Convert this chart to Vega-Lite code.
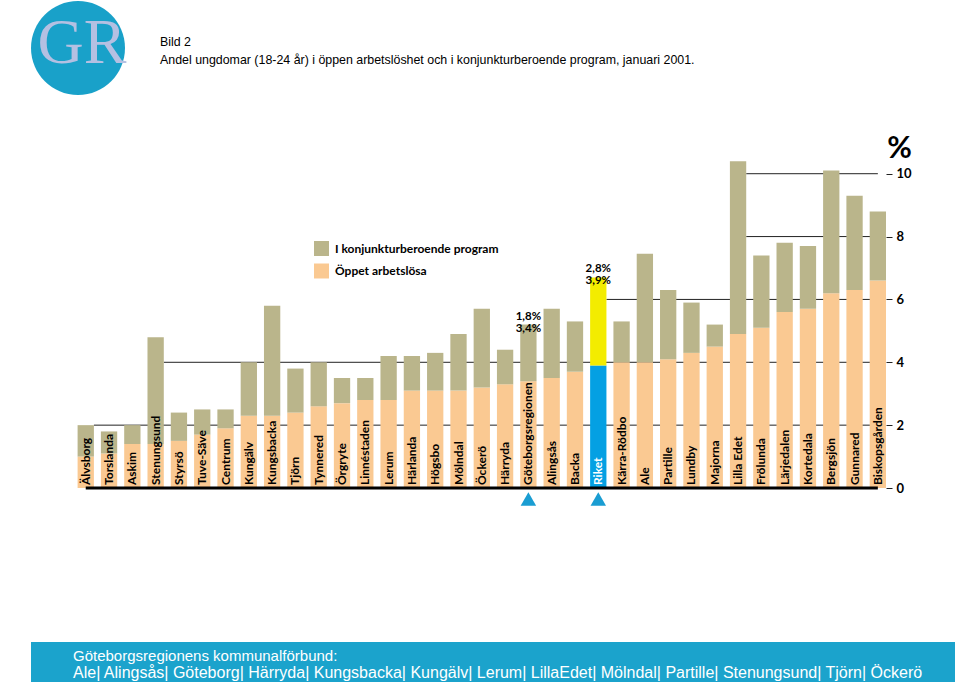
{
 "$schema": "https://vega.github.io/schema/vega-lite/v6.json",
 "padding": {"left": 31, "top": 1, "right": 0, "bottom": 0},
 "background": "white",
 "config": {"view": {"stroke": null}, "font": "Lato"},
 "datasets": {
  "youth": [
   {"a":"Älvsborg","s":"Öppet arbetslösa","v":1.0},{"a":"Älvsborg","s":"I konjunkturberoende program","v":1.0},
   {"a":"Torslanda","s":"Öppet arbetslösa","v":1.1},{"a":"Torslanda","s":"I konjunkturberoende program","v":0.7},
   {"a":"Askim","s":"Öppet arbetslösa","v":1.4},{"a":"Askim","s":"I konjunkturberoende program","v":0.6},
   {"a":"Stenungsund","s":"Öppet arbetslösa","v":1.4},{"a":"Stenungsund","s":"I konjunkturberoende program","v":3.4},
   {"a":"Styrsö","s":"Öppet arbetslösa","v":1.5},{"a":"Styrsö","s":"I konjunkturberoende program","v":0.9},
   {"a":"Tuve-Säve","s":"Öppet arbetslösa","v":1.7},{"a":"Tuve-Säve","s":"I konjunkturberoende program","v":0.8},
   {"a":"Centrum","s":"Öppet arbetslösa","v":1.9},{"a":"Centrum","s":"I konjunkturberoende program","v":0.6},
   {"a":"Kungälv","s":"Öppet arbetslösa","v":2.3},{"a":"Kungälv","s":"I konjunkturberoende program","v":1.7},
   {"a":"Kungsbacka","s":"Öppet arbetslösa","v":2.3},{"a":"Kungsbacka","s":"I konjunkturberoende program","v":3.5},
   {"a":"Tjörn","s":"Öppet arbetslösa","v":2.4},{"a":"Tjörn","s":"I konjunkturberoende program","v":1.4},
   {"a":"Tynnered","s":"Öppet arbetslösa","v":2.6},{"a":"Tynnered","s":"I konjunkturberoende program","v":1.4},
   {"a":"Örgryte","s":"Öppet arbetslösa","v":2.7},{"a":"Örgryte","s":"I konjunkturberoende program","v":0.8},
   {"a":"Linnéstaden","s":"Öppet arbetslösa","v":2.8},{"a":"Linnéstaden","s":"I konjunkturberoende program","v":0.7},
   {"a":"Lerum","s":"Öppet arbetslösa","v":2.8},{"a":"Lerum","s":"I konjunkturberoende program","v":1.4},
   {"a":"Härlanda","s":"Öppet arbetslösa","v":3.1},{"a":"Härlanda","s":"I konjunkturberoende program","v":1.1},
   {"a":"Högsbo","s":"Öppet arbetslösa","v":3.1},{"a":"Högsbo","s":"I konjunkturberoende program","v":1.2},
   {"a":"Mölndal","s":"Öppet arbetslösa","v":3.1},{"a":"Mölndal","s":"I konjunkturberoende program","v":1.8},
   {"a":"Öckerö","s":"Öppet arbetslösa","v":3.2},{"a":"Öckerö","s":"I konjunkturberoende program","v":2.5},
   {"a":"Härryda","s":"Öppet arbetslösa","v":3.3},{"a":"Härryda","s":"I konjunkturberoende program","v":1.1},
   {"a":"Göteborgsregionen","s":"Öppet arbetslösa","v":3.4},{"a":"Göteborgsregionen","s":"I konjunkturberoende program","v":1.8,"note":"1,8%\n3,4%"},
   {"a":"Alingsås","s":"Öppet arbetslösa","v":3.5},{"a":"Alingsås","s":"I konjunkturberoende program","v":2.2},
   {"a":"Backa","s":"Öppet arbetslösa","v":3.7},{"a":"Backa","s":"I konjunkturberoende program","v":1.6},
   {"a":"Riket","s":"Riket, öppet arbetslösa","v":3.9},{"a":"Riket","s":"Riket, i konjunkturberoende program","v":2.8,"note":"2,8%\n3,9%"},
   {"a":"Kärra-Rödbo","s":"Öppet arbetslösa","v":4.0},{"a":"Kärra-Rödbo","s":"I konjunkturberoende program","v":1.3},
   {"a":"Ale","s":"Öppet arbetslösa","v":4.0},{"a":"Ale","s":"I konjunkturberoende program","v":3.45},
   {"a":"Partille","s":"Öppet arbetslösa","v":4.1},{"a":"Partille","s":"I konjunkturberoende program","v":2.2},
   {"a":"Lundby","s":"Öppet arbetslösa","v":4.3},{"a":"Lundby","s":"I konjunkturberoende program","v":1.6},
   {"a":"Majorna","s":"Öppet arbetslösa","v":4.5},{"a":"Majorna","s":"I konjunkturberoende program","v":0.7},
   {"a":"Lilla Edet","s":"Öppet arbetslösa","v":4.9},{"a":"Lilla Edet","s":"I konjunkturberoende program","v":5.5},
   {"a":"Frölunda","s":"Öppet arbetslösa","v":5.1},{"a":"Frölunda","s":"I konjunkturberoende program","v":2.3},
   {"a":"Lärjedalen","s":"Öppet arbetslösa","v":5.6},{"a":"Lärjedalen","s":"I konjunkturberoende program","v":2.2},
   {"a":"Kortedala","s":"Öppet arbetslösa","v":5.7},{"a":"Kortedala","s":"I konjunkturberoende program","v":2.0},
   {"a":"Bergsjön","s":"Öppet arbetslösa","v":6.2},{"a":"Bergsjön","s":"I konjunkturberoende program","v":3.9},
   {"a":"Gunnared","s":"Öppet arbetslösa","v":6.3},{"a":"Gunnared","s":"I konjunkturberoende program","v":3.0},
   {"a":"Biskopsgården","s":"Öppet arbetslösa","v":6.6},{"a":"Biskopsgården","s":"I konjunkturberoende program","v":2.2}
  ],
  "grid": [
   {"v": 2, "from": "Älvsborg", "to": "Biskopsgården"},
   {"v": 4, "from": "Stenungsund", "to": "Biskopsgården"},
   {"v": 6, "from": "Riket", "to": "Biskopsgården"},
   {"v": 8, "from": "Lilla Edet", "to": "Biskopsgården"},
   {"v": 10, "from": "Lilla Edet", "to": "Biskopsgården"}
  ],
  "base": [{"v": 0, "from": "Älvsborg", "to": "Biskopsgården"}],
  "arrows": [{"a": "Göteborgsregionen"}, {"a": "Riket"}]
 },
 "bounds": "flush",
 "spacing": 63,
 "vconcat": [
  {
   "width": 94, "height": 94,
   "view": {"fill": "#19a1c9", "cornerRadius": 47, "stroke": null},
   "data": {"values": [{"k": "GR"}]},
   "mark": {"type": "text", "font": "Liberation Serif", "fontSize": 64, "color": "#b4c0e2", "align": "center", "baseline": "middle", "dx": 4, "dy": -4},
   "encoding": {"text": {"field": "k", "type": "nominal"}},
   "title": {"text": "Bild 2", "subtitle": "Andel ungdomar (18-24 år) i öppen arbetslöshet och i konjunkturberoende program, januari 2001.",
     "anchor": "start", "orient": "bottom", "offset": -59, "dx": 129,
     "font": "Liberation Sans", "fontSize": 12.4, "fontWeight": "normal", "color": "black",
     "subtitleFont": "Liberation Sans", "subtitleFontSize": 12.4, "subtitleColor": "black", "subtitlePadding": 6}
  },
  {
   "width": 855, "height": 421,
   "data": {"name": "youth"},
   "layer": [
    {
     "data": {"name": "grid"},
     "mark": {"type": "rule", "color": "#222222", "strokeWidth": 1},
     "encoding": {
      "x": {"field": "from", "type": "nominal", "bandPosition": 1},
      "x2": {"field": "to"},
      "y": {"field": "v", "type": "quantitative", "title": "%"}
     }
    },
    {
     "mark": {"type": "bar"},
     "encoding": {
      "x": {"field": "a", "type": "nominal",
        "axis": {"domain": false, "labels": false, "ticks": false, "title": null},
        "scale": {"domain": ["Älvsborg","Torslanda","Askim","Stenungsund","Styrsö","Tuve-Säve","Centrum","Kungälv","Kungsbacka","Tjörn","Tynnered","Örgryte","Linnéstaden","Lerum","Härlanda","Högsbo","Mölndal","Öckerö","Härryda","Göteborgsregionen","Alingsås","Backa","Riket","Kärra-Rödbo","Ale","Partille","Lundby","Majorna","Lilla Edet","Frölunda","Lärjedalen","Kortedala","Bergsjön","Gunnared","Biskopsgården"],
          "paddingInner": 0.3, "paddingOuter": 1.239, "align": 1}},
      "y": {"field": "v", "type": "quantitative", "stack": "zero", "title": "%",
        "scale": {"domain": [-2.895, 10.5], "nice": false, "zero": false},
        "axis": {"orient": "right", "values": [0,2,4,6,8,10], "domain": false, "grid": false,
          "ticks": true, "tickSize": 6, "tickColor": "#222222", "tickWidth": 1,
          "labelFont": "Lato", "labelFontWeight": "bold", "labelFontSize": 13, "labelColor": "black", "labelPadding": 4,
          "title": "%", "titleAngle": 0, "titleX": 13, "titleY": -1, "titleAlign": "center", "titleBaseline": "alphabetic",
          "titleFont": "Lato", "titleFontWeight": "bold", "titleFontSize": 30, "titleColor": "black"}},
      "color": {"field": "s", "type": "nominal",
        "scale": {"domain": ["I konjunkturberoende program", "Öppet arbetslösa", "Riket, i konjunkturberoende program", "Riket, öppet arbetslösa"],
          "range": ["#bab58b", "#fac992", "#f3ec00", "#04a0e3"]},
        "legend": {"values": ["I konjunkturberoende program", "Öppet arbetslösa"], "orient": "none", "legendX": 283, "legendY": 240,
          "title": null, "symbolType": "square", "symbolSize": 225, "symbolStrokeWidth": 0, "symbolOpacity": 1,
          "labelFont": "Lato", "labelFontWeight": "bold", "labelFontSize": 12, "labelColor": "black", "labelOffset": 6, "labelLimit": 400, "rowPadding": 7.5}},
      "order": {"field": "s", "sort": "descending"}
     }
    },
    {
     "data": {"name": "base"},
     "mark": {"type": "rule", "color": "black", "strokeWidth": 3},
     "encoding": {
      "x": {"field": "from", "type": "nominal"},
      "x2": {"field": "to"},
      "y": {"field": "v", "type": "quantitative", "title": "%"}
     }
    },
    {
     "transform": [{"filter": "datum.s == 'Öppet arbetslösa' || datum.s == 'Riket, öppet arbetslösa'"}],
     "mark": {"type": "text", "angle": 270, "align": "left", "baseline": "middle", "dx": 3, "font": "Lato", "fontWeight": "bold", "fontSize": 12},
     "encoding": {
      "x": {"field": "a", "type": "nominal"},
      "y": {"datum": 0, "title": "%"},
      "text": {"field": "a", "type": "nominal"},
      "color": {"condition": {"test": "datum.a == 'Riket'", "value": "white"}, "value": "black"}
     }
    },
    {
     "transform": [
      {"joinaggregate": [{"op": "sum", "field": "v", "as": "total"}], "groupby": ["a"]},
      {"filter": "isValid(datum.note)"}
     ],
     "mark": {"type": "text", "baseline": "bottom", "lineBreak": "\n", "dy": -3, "font": "Lato", "fontWeight": "bold", "fontSize": 11.5, "lineHeight": 12, "color": "black"},
     "encoding": {
      "x": {"field": "a", "type": "nominal"},
      "y": {"field": "total", "type": "quantitative", "title": "%"},
      "text": {"field": "note", "type": "nominal"}
     }
    },
    {
     "data": {"name": "arrows"},
     "mark": {"type": "point", "shape": "triangle-up", "filled": true, "color": "#1a9dd2", "size": 240, "opacity": 1},
     "encoding": {
      "x": {"field": "a", "type": "nominal"},
      "y": {"datum": -0.35, "title": "%"}
     }
    }
   ]
  },
  {
   "width": 924, "height": 40,
   "view": {"fill": "#1ba3cc", "stroke": null},
   "data": {"values": [{"k": ""}]},
   "mark": {"type": "text", "opacity": 0, "fontSize": 1},
   "encoding": {"text": {"field": "k", "type": "nominal"}},
   "title": {"text": "Göteborgsregionens kommunalförbund:", "subtitle": "Ale| Alingsås| Göteborg| Härryda| Kungsbacka| Kungälv| Lerum| LillaEdet| Mölndal| Partille| Stenungsund| Tjörn| Öckerö",
     "anchor": "start", "orient": "top", "offset": -39, "dx": 42,
     "font": "Liberation Sans", "fontSize": 15, "fontWeight": "normal", "color": "white",
     "subtitleFont": "Liberation Sans", "subtitleFontSize": 16, "subtitleColor": "white", "subtitlePadding": 1}
  }
 ]
}
